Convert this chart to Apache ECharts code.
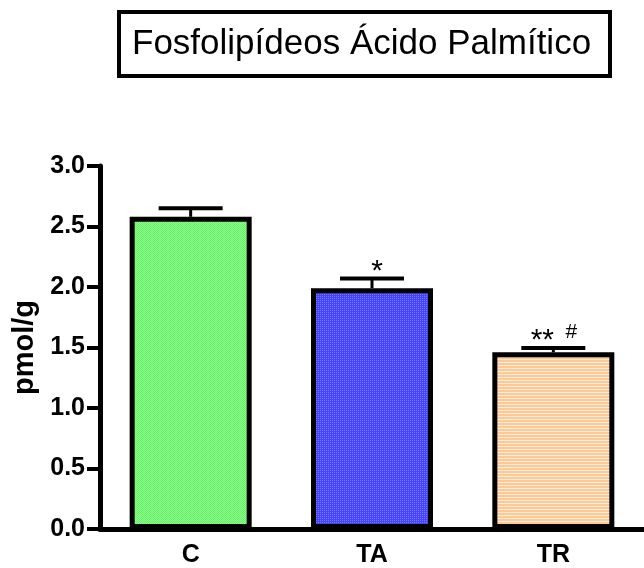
<!DOCTYPE html>
<html>
<head>
<meta charset="utf-8">
<script src="https://cdn.jsdelivr.net/npm/echarts@6/dist/echarts.min.js"></script>
<style>
html,body{margin:0;padding:0;background:#fff;}
#chart{width:644px;height:568px;}
</style>
</head>
<body>
<div id="chart"></div>
<script>
const categories = ['C', 'TA', 'TR'];
const means = [2.58, 1.99, 1.46];
const sems = [0.07, 0.08, 0.035];
const annotations = ['', '*', '**#'];
const titleText = 'Fosfolipídeos Ácido Palmítico';
const yName = 'pmol/g';
const yMin = 0, yMax = 3, yStep = 0.5;

const FONT = '"Liberation Sans", Arial, Helvetica, sans-serif';

function makePattern(w, h, draw) {
  const c = document.createElement('canvas');
  c.width = w; c.height = h;
  const ctx = c.getContext('2d');
  draw(ctx);
  return { image: c, repeat: 'repeat' };
}
const greenPat = makePattern(2, 2, ctx => {
  ctx.fillStyle = '#88FD88'; ctx.fillRect(0, 0, 2, 2);
  ctx.fillStyle = '#6CF06C'; ctx.fillRect(0, 0, 1, 1); ctx.fillRect(1, 1, 1, 1);
});
const bluePat = makePattern(2, 2, ctx => {
  ctx.fillStyle = '#4444FF'; ctx.fillRect(0, 0, 2, 2);
  ctx.fillStyle = '#7A7AFF'; ctx.fillRect(0, 0, 1, 1);
});
const peachPat = makePattern(3, 3, ctx => {
  ctx.fillStyle = '#FFC994'; ctx.fillRect(0, 0, 3, 3);
  ctx.fillStyle = '#FFEEDD'; ctx.fillRect(0, 2, 3, 1);
});
const fills = [greenPat, bluePat, peachPat];

const chart = echarts.init(document.getElementById('chart'), null, { renderer: 'canvas' });

const option = {
  animation: false,
  backgroundColor: '#fff',
  title: {
    text: titleText,
    left: 119,
    top: 12,
    padding: [14, 19, 14, 13],
    borderColor: '#000',
    borderWidth: 4,
    textStyle: { fontFamily: FONT, fontSize: 35, fontWeight: 'normal', color: '#000', lineHeight: 36 }
  },
  grid: { left: 100, right: 0, top: 166, bottom: 37 },
  xAxis: {
    type: 'category',
    data: categories,
    axisLine: { lineStyle: { color: '#000', width: 5 } },
    axisTick: { alignWithLabel: true, length: 10, lineStyle: { color: '#000', width: 4 } },
    axisLabel: { color: '#000', fontFamily: FONT, fontWeight: 'bold', fontSize: 25, margin: 14 },
    splitLine: { show: false }
  },
  yAxis: {
    type: 'value',
    min: yMin, max: yMax, interval: yStep,
    name: yName,
    nameLocation: 'middle',
    nameGap: 61,
    nameTextStyle: { color: '#000', fontFamily: FONT, fontWeight: 'bold', fontSize: 29 },
    axisLine: { show: true, lineStyle: { color: '#000', width: 5 } },
    axisTick: { show: true, length: 13, lineStyle: { color: '#000', width: 4 } },
    axisLabel: { color: '#000', fontFamily: FONT, fontWeight: 'bold', fontSize: 25, margin: 15,
      formatter: v => v.toFixed(1) },
    splitLine: { show: false }
  },
  series: [
    {
      type: 'bar',
      barWidth: 122,
      data: means.map((v, i) => ({
        value: v,
        itemStyle: { color: fills[i], borderColor: '#000', borderWidth: 5 }
      })),
      z: 2
    },
    {
      type: 'custom',
      z: 3,
      data: means.map((v, i) => [i, v, sems[i], i]),
      renderItem: function (params, api) {
        const idx = api.value(0);
        const v = api.value(1), e = api.value(2);
        const base = api.coord([idx, v]);
        const top = api.coord([idx, v + e]);
        const half = 32;
        const ann = annotations[api.value(3)];
        const children = [
          { type: 'line', shape: { x1: base[0], y1: base[1], x2: top[0], y2: top[1] },
            style: { stroke: '#000', lineWidth: 3 } },
          { type: 'line', shape: { x1: top[0] - half, y1: top[1], x2: top[0] + half, y2: top[1] },
            style: { stroke: '#000', lineWidth: 4 } }
        ];
        if (ann) {
          const stars = ann.replace('#', '');
          const hash = ann.indexOf('#') >= 0;
          children.push({
            type: 'text', x: top[0] + (hash ? -11 : 5), y: top[1] + 8,
            style: { text: stars, fontFamily: FONT, fontSize: 30, fill: '#000',
              align: 'center', verticalAlign: 'bottom' }
          });
          if (hash) {
            children.push({
              type: 'text', x: top[0] + 18, y: top[1] - 5,
              style: { text: '#', fontFamily: FONT, fontSize: 21, fill: '#000',
                align: 'center', verticalAlign: 'bottom' }
            });
          }
        }
        return { type: 'group', children: children };
      }
    }
  ]
};
chart.setOption(option);
</script>
</body>
</html>
